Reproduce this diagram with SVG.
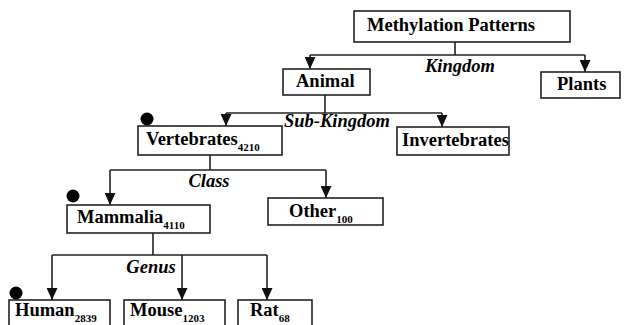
<svg xmlns="http://www.w3.org/2000/svg" width="624" height="325" viewBox="0 0 624 325">
<defs>
<marker id="arr" viewBox="0 0 12 11" refX="12" refY="5.5" markerWidth="12" markerHeight="11" markerUnits="userSpaceOnUse" orient="auto">
<path d="M0,0 L12,5.5 L0,11 z" fill="#111"/>
</marker>
<style>
.box{fill:#fff;stroke:#222;stroke-width:1.6}
.t{font-family:"Liberation Serif","Times New Roman",serif;font-weight:bold;font-size:18.5px;fill:#000}
.s{font-size:11px}
.lbl{font-family:"Liberation Serif","Times New Roman",serif;font-weight:bold;font-style:italic;font-size:18.5px;fill:#000;text-anchor:middle}
.c{fill:none;stroke:#222;stroke-width:1.6}
.dot{fill:#000}
</style>
</defs>
<rect width="624" height="325" fill="#fff"/>
<g id="connectors">
<path class="c" d="M455,42 V55"/>
<path class="c" d="M310,55 H585"/>
<path class="c" d="M310,55 V69" marker-end="url(#arr)"/>
<path class="c" d="M585,55 V72" marker-end="url(#arr)"/>
<path class="c" d="M325,95 V113"/>
<path class="c" d="M226,113 H442"/>
<path class="c" d="M226,113 V126" marker-end="url(#arr)"/>
<path class="c" d="M442,113 V127" marker-end="url(#arr)"/>
<path class="c" d="M210,155 V170"/>
<path class="c" d="M110,170 H326"/>
<path class="c" d="M110,170 V205" marker-end="url(#arr)"/>
<path class="c" d="M326,170 V198" marker-end="url(#arr)"/>
<path class="c" d="M153,233 V255"/>
<path class="c" d="M52,255 H267"/>
<path class="c" d="M52,255 V300" marker-end="url(#arr)"/>
<path class="c" d="M182,255 V300" marker-end="url(#arr)"/>
<path class="c" d="M267,255 V300" marker-end="url(#arr)"/>
<text class="lbl" x="460" y="72">Kingdom</text>
<text class="lbl" x="337" y="127">Sub-Kingdom</text>
<text class="lbl" x="209" y="187">Class</text>
<text class="lbl" x="151" y="273">Genus</text>
</g>
<g id="methylation">
<rect class="box" x="354" y="11" width="216" height="31"/>
<text class="t" x="367" y="31">Methylation Patterns</text>
</g>
<g id="animal">
<rect class="box" x="283" y="69" width="87" height="26"/>
<text class="t" x="296" y="87">Animal</text>
</g>
<g id="plants">
<rect class="box" x="541" y="72" width="79" height="26"/>
<text class="t" x="557" y="90">Plants</text>
</g>
<g id="vertebrates">
<rect class="box" x="138" y="126" width="144" height="29"/>
<circle class="dot" cx="147" cy="119" r="6.5"/>
<text class="t" x="146" y="145">Vertebrates<tspan class="s" dy="6">4210</tspan></text>
</g>
<g id="invertebrates">
<rect class="box" x="397" y="127" width="112" height="28"/>
<text class="t" x="402" y="146">Invertebrates</text>
</g>
<g id="mammalia">
<rect class="box" x="67" y="205" width="143" height="28"/>
<circle class="dot" cx="73" cy="196" r="6.5"/>
<text class="t" x="77" y="223">Mammalia<tspan class="s" dy="6">4110</tspan></text>
</g>
<g id="other">
<rect class="box" x="268" y="198" width="115" height="27"/>
<text class="t" x="289" y="217">Other<tspan class="s" dy="6">100</tspan></text>
</g>
<g id="human">
<rect class="box" x="9" y="300" width="101" height="35"/>
<circle class="dot" cx="16" cy="293" r="6.5"/>
<text class="t" x="15" y="316">Human<tspan class="s" dy="6">2839</tspan></text>
</g>
<g id="mouse">
<rect class="box" x="124" y="300" width="101" height="35"/>
<text class="t" x="130" y="316">Mouse<tspan class="s" dy="6">1203</tspan></text>
</g>
<g id="rat">
<rect class="box" x="238" y="300" width="74" height="35"/>
<text class="t" x="250" y="316">Rat<tspan class="s" dy="6">68</tspan></text>
</g>
</svg>
